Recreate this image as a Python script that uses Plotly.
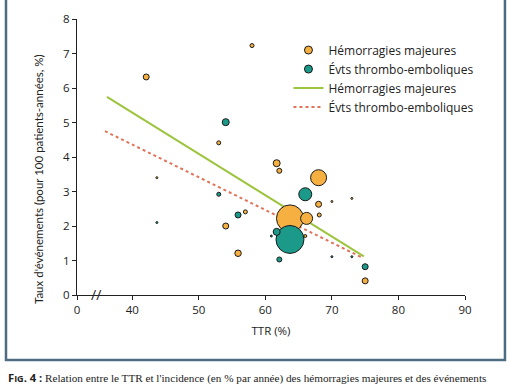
import plotly.graph_objects as go

# ---- data ----
hem_ttr = [42.1, 58.0, 53.0, 54.05, 55.9, 57.0, 61.7, 62.1, 68.0, 68.0, 68.1, 63.7, 66.2, 75.0, 66.0, 43.7, 70.0, 73.0]
hem_rate = [6.32, 7.23, 4.41, 2.00, 1.21, 2.41, 3.82, 3.60, 3.40, 2.63, 2.32, 2.22, 2.22, 0.41, 1.71, 3.40, 2.71, 2.80]
hem_size = [6, 4, 4, 6, 6.5, 4, 7, 5, 16, 6, 4, 27, 12, 6, 3, 2, 2, 2]

te_ttr = [54.05, 53.0, 55.9, 66.0, 63.7, 61.7, 62.1, 75.0, 43.7, 70.0, 73.0, 60.9]
te_rate = [5.01, 2.92, 2.32, 2.92, 1.61, 1.83, 1.03, 0.82, 2.10, 1.11, 1.11, 1.71]
te_size = [7, 4, 6, 13, 28, 7, 5, 6, 2, 2, 2, 2]

hem_fit_x = [36.2, 74.8]
hem_fit_y = [5.74, 1.12]
te_fit_x = [35.9, 74.5]
te_fit_y = [4.75, 1.09]

x_tickvals = [31.7, 40, 50, 60, 70, 80, 90]
x_ticktext = ["0", "40", "50", "60", "70", "80", "90"]

ORANGE = "#f6b042"
TEAL = "#1b9a8a"
GREEN = "#9cc43c"
RED = "#e0745a"
OUTLINE = "#1a1a1a"
FONT = "Open Sans"

fig = go.Figure()
# fitted lines (drawn under the bubbles)
fig.add_trace(go.Scatter(x=hem_fit_x, y=hem_fit_y, mode="lines", name="Hémorragies majeures",
                         line=dict(color=GREEN, width=2), legendrank=3))
fig.add_trace(go.Scatter(x=te_fit_x, y=te_fit_y, mode="lines", name="Évts thrombo-emboliques",
                         line=dict(color=RED, width=2, dash="dot"), legendrank=4))
# bubbles
fig.add_trace(go.Scatter(x=hem_ttr, y=hem_rate, mode="markers", name="Hémorragies majeures",
                         marker=dict(color=ORANGE, size=hem_size, sizemode="diameter",
                                     line=dict(color=OUTLINE, width=1), opacity=1),
                         showlegend=False))
fig.add_trace(go.Scatter(x=te_ttr, y=te_rate, mode="markers", name="Évts thrombo-emboliques",
                         marker=dict(color=TEAL, size=te_size, sizemode="diameter",
                                     line=dict(color=OUTLINE, width=1), opacity=1),
                         showlegend=False))
# legend entries for bubbles (small constant symbols)
fig.add_trace(go.Scatter(x=[None], y=[None], mode="markers", name="Hémorragies majeures",
                         marker=dict(color=ORANGE, size=8, line=dict(color=OUTLINE, width=1)),
                         legendrank=1))
fig.add_trace(go.Scatter(x=[None], y=[None], mode="markers", name="Évts thrombo-emboliques",
                         marker=dict(color=TEAL, size=8, line=dict(color=OUTLINE, width=1)),
                         legendrank=2))

axis_common = dict(showline=True, linecolor="#222", linewidth=1.2, ticks="outside",
                   ticklen=4, tickcolor="#222", showgrid=False, zeroline=False,
                   automargin=False,
                   tickfont=dict(family=FONT, size=11.5, color="#222"))

fig.update_layout(
    width=509, height=386,
    margin=dict(l=77, r=44, t=19, b=91, autoexpand=False),
    paper_bgcolor="white", plot_bgcolor="white",
    font=dict(family=FONT, size=11, color="#222"),
    showlegend=True,
    legend=dict(x=0.545, y=0.94, xanchor="left", yanchor="top",
                font=dict(family=FONT, size=12, color="#222"), bgcolor="rgba(0,0,0,0)",
                tracegroupgap=0, itemwidth=30),
    xaxis=dict(range=[31.7, 90], tickvals=x_tickvals, ticktext=x_ticktext,
               title=dict(text="TTR (%)", standoff=11, font=dict(family=FONT, size=11.5)),
               **axis_common),
    yaxis=dict(range=[0, 8], dtick=1, tick0=0, **axis_common),
)

# y-axis title (as annotation so it can sit like the reference)
fig.add_annotation(xref="paper", yref="paper", x=-0.1005, y=0.42, textangle=-90,
                   text="Taux d'événements (pour 100 patients-années, %)", showarrow=False,
                   xanchor="center", yanchor="middle",
                   font=dict(family="Lato", size=11.5, color="#222"))

# axis break mark
fig.add_annotation(x=34.6, y=0, xref="x", yref="y", text="//", showarrow=False,
                   font=dict(family=FONT, size=14, color="#222"), yshift=1)

# frame
fig.add_shape(type="rect", xref="paper", yref="paper", x0=-0.183, x1=1.103, y0=-0.2355, y1=1.09,
              line=dict(color="#4f6d82", width=2.5), layer="below")

# caption
fig.add_annotation(xref="paper", yref="paper", x=-0.183, y=-0.30, xanchor="left", yanchor="middle",
                   showarrow=False, align="left",
                   text="<span style='font-family:Open Sans;font-weight:bold'>F<span style='font-size:9px'>IG</span>. 4 :</span> Relation entre le TTR et l'incidence (en % par année) des hémorragies majeures et des événements",
                   font=dict(family="Liberation Serif", size=11.2, color="#222"))

fig.write_html("out.html", config={"displayModeBar": False},
               post_script="document.body.style.margin='0';document.body.style.overflow='hidden';")
